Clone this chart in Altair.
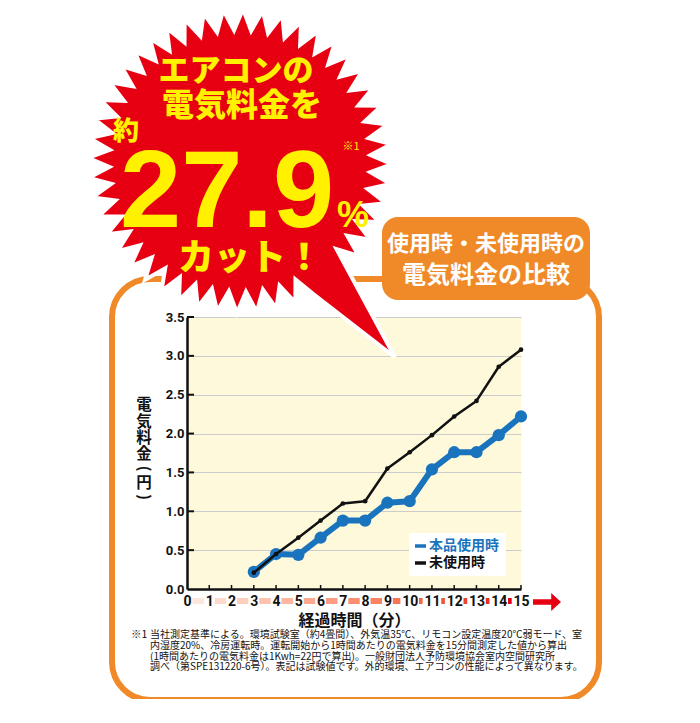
import math
import altair as alt
import pandas as pd

# ---------------- data ----------------
minutes = [3, 4, 5, 6, 7, 8, 9, 10, 11, 12, 13, 14, 15]
unused_cost = [0.21, 0.45, 0.66, 0.88, 1.10, 1.13, 1.55, 1.76, 1.98, 2.22, 2.42, 2.86, 3.08]
product_cost = [0.22, 0.45, 0.44, 0.66, 0.88, 0.88, 1.11, 1.13, 1.54, 1.76, 1.76, 1.98, 2.22]
series_names = ["本品使用時", "未使用時"]
x_ticks = list(range(0, 16))
y_ticks = [0.0, 0.5, 1.0, 1.5, 2.0, 2.5, 3.0, 3.5]

headline_1 = "エアコンの"
headline_2 = "電気料金を"
about_text = "約"
percent_value = "27.9"
percent_sign = "%"
cut_text = "カット！"
note_mark = "※1"
box_line_1 = "使用時・未使用時の"
box_line_2 = "電気料金の比較"
x_title = "経過時間（分）"
y_title = "電気料金（円）"
footnote_lines = [
    "当社測定基準による。環境試験室（約4畳間）、外気温35℃、リモコン設定温度20℃弱モード、室",
    "内湿度20%、冷房運転時。運転開始から1時間あたりの電気料金を15分間測定した値から算出",
    "(1時間あたりの電気料金は1Kwh=22円で算出)。一般財団法人予防環境協会室内空間研究所",
    "調べ（第SPE131220-6号）。表記は試験値です。外的環境、エアコンの性能によって異なります。",
]

# ---------------- style ----------------
RED = "#e60012"
YELLOW = "#fff100"
ORANGE = "#f08a28"
BLUE = "#1a74bd"
BLACK = "#111111"
PLOT_BG = "#fdf9da"
JP = "Noto Sans CJK JP"
NUM = "Roboto"

W, H = 334, 272
OX, OY = 187, 317  # page position of the plot origin


def px(v):
    return v - OX


def py(v):
    return v - OY


xs = alt.Scale(domain=[0, 15], nice=False, zero=False)
ys = alt.Scale(domain=[0, 3.5], nice=False)
X_AX = alt.Axis(values=x_ticks, format="d", labelFont=NUM, labelFontWeight="bold",
                labelFontSize=14, labelColor=BLACK, labelPadding=5, labelFlush=False,
                labelOverlap=False, ticks=False, tickSize=0, grid=False,
                domainColor=BLACK, domainWidth=2.5, title=x_title, titleFont=JP,
                titleFontSize=16, titleFontWeight="bold", titleColor=BLACK, titlePadding=4)
Y_AX = alt.Axis(values=y_ticks, format=".1f", labelFont=NUM, labelFontWeight="bold",
                labelFontSize=13, labelColor=BLACK, labelPadding=3, labelFlush=False,
                ticks=False, tickSize=0, grid=True, gridColor="#cccccc", gridWidth=1,
                domainColor=BLACK, domainWidth=2.5, title=None)


def one(**kw):
    return pd.DataFrame({k: [v] for k, v in kw.items()})


# ---------------- starburst shape ----------------
def starburst_path(n=48, r_in=0.86, tip_deg=51.7, tip_r=1.645, half_deg=7.0):
    tip = math.radians(tip_deg)
    hw = math.radians(half_deg)
    pts = []
    done = False
    for k in range(2 * n):
        a = math.pi * k / n + 0.02
        r = 1.0 if k % 2 == 0 else r_in
        d = (a - tip + math.pi) % (2 * math.pi) - math.pi
        if abs(d) < hw:
            if not done:
                pts.append((tip_r * math.cos(tip), tip_r * math.sin(tip)))
                done = True
            continue
        pts.append((r * math.cos(a), r * math.sin(a)))
    return "M" + " L".join(f"{x:.4f},{y:.4f}" for x, y in pts) + " Z"


burst_r = 152
burst = alt.Chart(one(n=1)).mark_point(
    shape=starburst_path(), size=(2 * burst_r) ** 2, filled=True, fill=RED,
    stroke="white", strokeWidth=4, opacity=1
).encode(x=alt.value(px(240)), y=alt.value(py(161)))

frame = alt.Chart(one(n=1)).mark_rect(
    cornerRadius=38, fill="white", fillOpacity=0, stroke=ORANGE, strokeWidth=6
).encode(x=alt.value(px(112)), x2=alt.value(px(599)), y=alt.value(py(279)), y2=alt.value(py(700)))

label_box = alt.Chart(one(n=1)).mark_rect(cornerRadius=16, fill=ORANGE).encode(
    x=alt.value(px(382)), x2=alt.value(px(590)), y=alt.value(py(217)), y2=alt.value(py(300)))


def text_layer(txt, x, y, size, color, font=JP, align="center", baseline="middle", weight="bold", **kw):
    return alt.Chart(one(t=txt)).mark_text(
        font=font, fontSize=size, fontWeight=weight, color=color, align=align,
        baseline=baseline, **kw
    ).encode(text="t:N", x=alt.value(px(x)), y=alt.value(py(y)))


box_t1 = text_layer(box_line_1, 486, 244, 22, "white")
box_t2 = text_layer(box_line_2, 486, 276, 24, "white")

h1 = text_layer(headline_1, 236, 72, 31, YELLOW, weight=900)
h2 = text_layer(headline_2, 242, 106, 32, YELLOW, weight=900)
h_about = text_layer(about_text, 126, 132, 26, YELLOW, weight=900)
h_note = text_layer(note_mark, 351, 147, 11, YELLOW, weight="normal")
h_num = text_layer(percent_value, 120, 227, 110, YELLOW, font="Liberation Sans",
                   align="left", baseline="alphabetic")
h_pct = text_layer(percent_sign, 337, 227, 36, YELLOW, font="Liberation Sans",
                   align="left", baseline="alphabetic")
h_cut = text_layer(cut_text, 250, 259, 36, YELLOW, weight=900)

# ---------------- series ----------------
df = pd.DataFrame({
    "minute": minutes * 2,
    "value": product_cost + unused_cost,
    "series": [series_names[0]] * len(minutes) + [series_names[1]] * len(minutes),
})
color = alt.Color("series:N", scale=alt.Scale(domain=series_names, range=[BLUE, BLACK]), legend=None)


def series_layers(name, lw, ps):
    base = alt.Chart(df).transform_filter(alt.datum.series == name).encode(
        x=alt.X("minute:Q", scale=xs, axis=X_AX),
        y=alt.Y("value:Q", scale=ys, axis=Y_AX),
        color=color,
    )
    return [base.mark_line(strokeWidth=lw, strokeJoin="round"),
            base.mark_point(filled=True, size=ps, opacity=1)]


# inward ticks
ytick_df = pd.DataFrame({"v": y_ticks[1:]})
ytick = alt.Chart(ytick_df).mark_rule(color=BLACK, strokeWidth=2).encode(
    y=alt.Y("v:Q", scale=ys, axis=Y_AX), x=alt.value(0), x2=alt.value(7))
xtick_df = pd.DataFrame({"v": x_ticks[1:]})
xtick = alt.Chart(xtick_df).mark_rule(color=BLACK, strokeWidth=1.5).encode(
    x=alt.X("v:Q", scale=xs, axis=X_AX), y=alt.value(H - 4), y2=alt.value(H))

# arrow segments between the x labels
unit = W / 15
half = [len(str(v)) * 3.9 + 1.5 for v in x_ticks]
seg_df = pd.DataFrame({
    "i": list(range(15)),
    "s": [x_ticks[i] + half[i] / unit for i in range(15)],
    "e": [x_ticks[i + 1] - half[i + 1] / unit for i in range(15)],
})
segs = alt.Chart(seg_df).mark_rect().encode(
    x=alt.X("s:Q", scale=xs, axis=X_AX), x2="e:Q",
    y=alt.value(py(598)), y2=alt.value(py(604)),
    fill=alt.Fill("i:Q", scale=alt.Scale(domain=[0, 14], range=["#fde6de", "#e60012"]), legend=None),
)
arrow = alt.Chart(one(n=1)).mark_point(
    shape="M-1,-0.2 L0.3,-0.2 L0.3,-0.65 L1,0 L0.3,0.65 L0.3,0.2 L-1,0.2 Z",
    size=28 ** 2, filled=True, fill=RED, opacity=1, strokeWidth=0
).encode(x=alt.value(px(547)), y=alt.value(py(602)))

# legend (manual)
leg_box = alt.Chart(one(n=1)).mark_rect(fill="white").encode(
    x=alt.value(px(409)), x2=alt.value(px(506)), y=alt.value(py(533)), y2=alt.value(py(576)))
leg_layers = [leg_box]
for name, col, yy in zip(series_names, [BLUE, BLACK], [546, 563]):
    leg_layers.append(alt.Chart(one(t=name)).mark_rule(color=col, strokeWidth=3.5).encode(
        x=alt.value(px(415)), x2=alt.value(px(426)), y=alt.value(py(yy))))
    leg_layers.append(text_layer(name, 429, yy, 14, col, align="left"))

# y title: upright characters stacked vertically, parentheses turned sideways
ytitle_layers = []
cy = 397.0
for ch in y_title:
    if ch in "（）":
        glyph = "(" if ch == "（" else ")"
        step = 12.0
        ytitle_layers.append(text_layer(glyph, 144, cy + step / 2, 15, BLACK, angle=90))
    else:
        step = 16.4
        ytitle_layers.append(text_layer(ch, 144, cy + step / 2, 15.5, BLACK))
    cy += step

# footnote
foot_mark = text_layer(note_mark, 131, 630, 10.5, BLACK, align="left", baseline="top", weight="normal")
foot = alt.Chart(one(t="\n".join(footnote_lines))).mark_text(
    font=JP, fontSize=10, color=BLACK, align="left", baseline="top", lineBreak="\n", lineHeight=10.8
).encode(text="t:N", x=alt.value(px(150)), y=alt.value(py(630)))

layers = (
    [frame, burst, label_box, box_t1, box_t2, h1, h2, h_about, h_note, h_num, h_pct, h_cut]
    + leg_layers
    + [ytick, xtick]
    + series_layers(series_names[0], 6, 150)
    + series_layers(series_names[1], 2.5, 22)
    + [segs, arrow]
    + ytitle_layers
    + [foot_mark, foot]
)

chart = alt.layer(*layers).properties(
    width=W, height=H, autosize="none",
    padding={"left": OX - 8, "top": OY - 8, "right": 170, "bottom": 110},
    background="white",
).configure_view(stroke=None, fill=PLOT_BG)

chart.save("out.html", embed_options={"renderer": "svg", "actions": False})
